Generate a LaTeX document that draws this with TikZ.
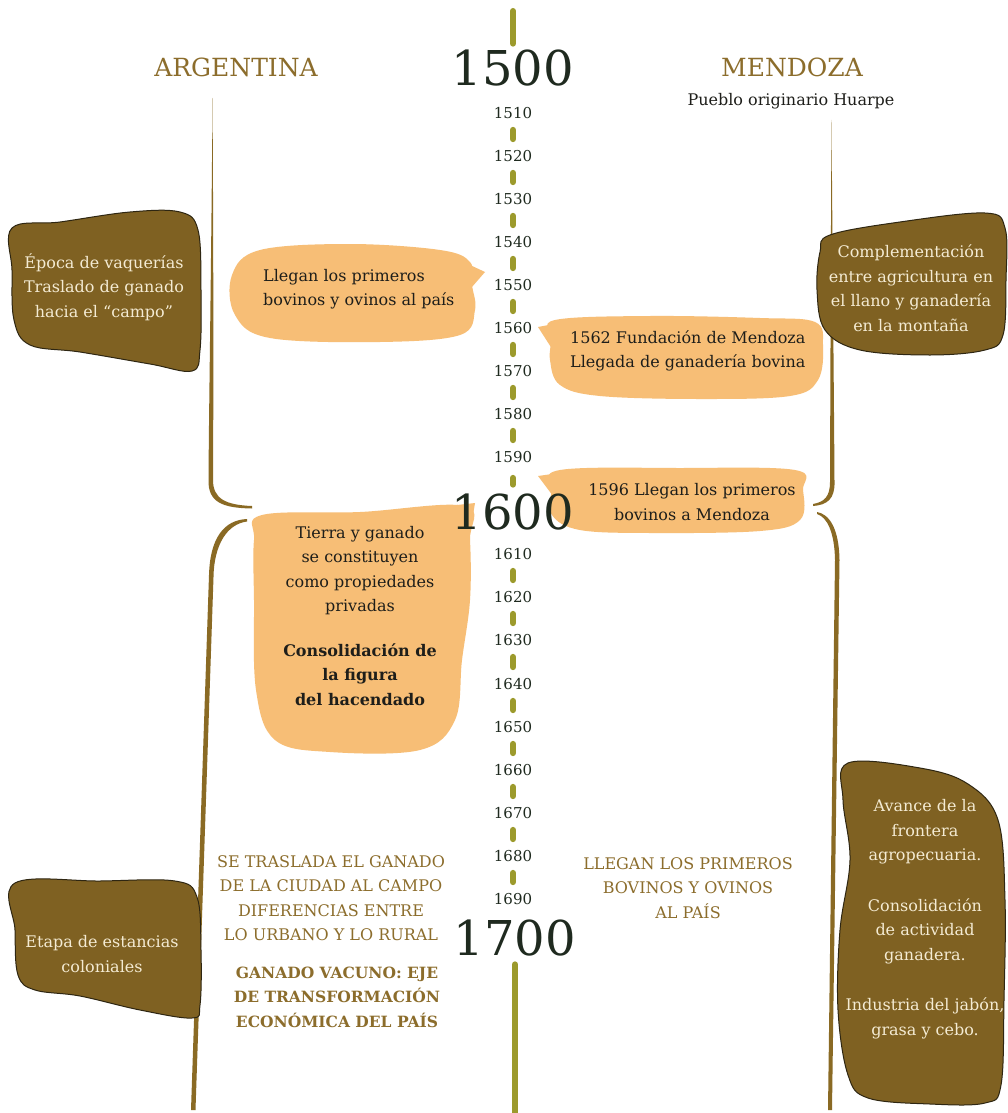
\documentclass[tikz,border=0pt]{standalone}
\usepackage{fontspec}
\setmainfont{DejaVu Serif}
\definecolor{olivedash}{HTML}{9C9A2C}
\definecolor{yeardark}{HTML}{1F2A1F}
\definecolor{goldtitle}{HTML}{8C6D2C}
\definecolor{boxbrown}{HTML}{7F6122}
\definecolor{boxline}{HTML}{2E2612}
\definecolor{bracketbrown}{HTML}{8A6A24}
\definecolor{bubbleorange}{HTML}{F7BE76}
\definecolor{creamtxt}{HTML}{F4EBD3}
\definecolor{bodydark}{HTML}{1E1E1A}
\begin{document}
\begin{tikzpicture}[x=1pt,y=-1pt,
  yearbig/.style={text=yeardark,font=\fontsize{48}{52}\selectfont,inner sep=0pt},
  yearsm/.style={text=yeardark,font=\fontsize{15}{17}\selectfont,inner sep=0pt},
  dashseg/.style={draw=olivedash,line width=6pt,line cap=round},
  body/.style={align=center,font=\fontsize{16}{24.5}\selectfont,inner sep=0pt,text=bodydark},
  boxtxt/.style={body,text=creamtxt},
  goldtxt/.style={body,text=goldtitle},
  title/.style={text=goldtitle,font=\fontsize{25}{28}\selectfont,inner sep=0pt},
  bubble/.style={fill=bubbleorange},
  brownbox/.style={fill=boxbrown,draw=boxline,line width=1pt},
  bracket/.style={fill=bracketbrown}]
\useasboundingbox (0,0) rectangle (1007,1113);
\fill[white] (0,0) rectangle (1007,1113);

% brackets
\fill[bracket] (212.5,98) .. controls (211.5,250) and (209,400) .. (208.5,480) .. controls (208,502) and (222,508) .. (252,508.5) -- (252,506) .. controls (226,505) and (213,499) .. (213,480) .. controls (213.5,400) and (213.5,250) .. (212.5,98) -- cycle;
\fill[bracket] (247,519) .. controls (224,520) and (210,538) .. (209,575) -- (191,1110) -- (195.5,1110) -- (213.5,577) .. controls (214,545) and (227,524) .. (247,521.5) -- cycle;
\fill[bracket] (831.5,120) .. controls (832.5,250) and (834,400) .. (834.5,482) .. controls (835,499) and (827,505) .. (813,506) -- (813,504) .. controls (824,502) and (830,497) .. (830,482) .. controls (830.3,400) and (830.8,250) .. (831.5,120) -- cycle;
\fill[bracket] (817,512) .. controls (829,514) and (839,528) .. (839.5,560) -- (832,1110) -- (828,1110) -- (835,560) .. controls (834.5,532) and (827,517) .. (817,514) -- cycle;

% brown boxes
\draw[brownbox] plot[smooth cycle,tension=0.6] coordinates {(12,228) (60,222) (130,212) (180,212) (198,230) (201,290) (200,350) (192,371) (150,364) (80,352) (30,345) (14,320) (12,270)};
\draw[brownbox] plot[smooth cycle,tension=0.6] coordinates {(15,883) (100,881) (175,881) (197,897) (201,950) (200,1005) (192,1018) (140,1010) (80,996) (35,990) (18,975) (15,930)};
\draw[brownbox] plot[smooth cycle,tension=0.6] coordinates {(830,235) (900,222) (985,213) (1005,228) (1006,280) (1003,335) (985,350) (930,355) (860,350) (825,330) (817,290) (820,252)};
\draw[brownbox] plot[smooth cycle,tension=0.6] coordinates {(848,763) (920,768) (968,784) (998,820) (1005,900) (1004,1000) (1001,1085) (985,1103) (930,1104) (868,1098) (848,1075) (838,1010) (840,930) (850,860) (843,800)};

% bubbles
\fill[bubble] plot[smooth cycle,tension=0.6] coordinates {(470,262) (440,250) (350,244) (260,250) (232,275) (235,315) (270,338) (380,342) (460,335) (475,310) (472,285)};
\fill[bubble] (455,258) -- (485,272) -- (465,295) -- cycle;
\fill[bubble] plot[smooth cycle,tension=0.6] coordinates {(555,320) (650,316) (760,318) (815,322) (823,345) (818,380) (790,396) (700,399) (600,396) (560,385) (550,360) (552,338)};
\fill[bubble] (575,320) -- (538,327) -- (556,355) -- cycle;
\fill[bubble] plot[smooth cycle,tension=0.6] coordinates {(560,470) (680,468) (795,470) (803,490) (800,520) (760,531) (650,533) (580,530) (552,515) (552,490)};
\fill[bubble] (580,470) -- (538,476) -- (556,500) -- cycle;
\fill[bubble] plot[smooth cycle,tension=0.6] coordinates {(262,515) (360,512) (465,506) (470,540) (470,600) (462,660) (455,720) (420,750) (330,752) (275,740) (256,690) (254,600) (254,540)};
\fill[bubble] (430,508) -- (475,503) -- (468,545) -- cycle;

% years
\node[yearbig] (y1500) at (513,68) {1500};
\node[yearbig] (y1600) at (513,512) {1600};
\node[yearbig] (y1700) at (515,938) {1700};
\foreach \yr/\yy in {1510/113,1520/156,1530/199,1540/242,1550/285,1560/328,1570/371,1580/414,1590/457,1610/554,1620/597,1630/640,1640/684,1650/727,1660/770,1670/813,1680/856,1690/899}
  \node[yearsm] (y\yr) at (513,\yy) {\yr};
\coordinate (ltop) at (513,11);
\coordinate (lbot) at (515,1113);
\draw[dashseg,shorten >=6pt] (ltop) -- (y1500.north);
\draw[dashseg,shorten <=8pt] (y1700.south) -- (lbot);
\foreach \a/\b in {1510/1520,1520/1530,1530/1540,1540/1550,1550/1560,1560/1570,1570/1580,1580/1590,1610/1620,1620/1630,1630/1640,1640/1650,1650/1660,1660/1670,1670/1680,1680/1690}
  \draw[dashseg,shorten <=11pt,shorten >=11pt] (y\a.south) -- (y\b.north);
\draw[dashseg,shorten <=15pt,shorten >=9pt] (y1590.south) -- (y1600.north);

% titles
\node[title] (arg) at (236,67) {ARGENTINA};
\node[title] (men) at (792,67) {MENDOZA};
\node[body] (huarpe) at (791,101) {Pueblo originario Huarpe};

% texts
\node[boxtxt] (t1) at (104,287) {Época de vaquerías\\Traslado de ganado\\hacia el “campo”};
\node[boxtxt] (t2) at (911,288) {Complementación\\entre agricultura en\\el llano y ganadería\\en la montaña};
\node[boxtxt] (t3) at (102,954) {Etapa de estancias\\coloniales};
\node[boxtxt] (t4) at (925,919) {Avance de la\\frontera\\agropecuaria.\\[26pt]Consolidación\\de actividad\\ganadera.\\[26pt]Industria del jabón,\\grasa y cebo.};
\node[body,align=left,anchor=west] (b1) at (263,289) {Llegan los primeros\\bovinos y ovinos al país};
\node[body,align=left,anchor=west] (b2) at (570,351) {1562 Fundación de Mendoza\\Llegada de ganadería bovina};
\node[body] (b3) at (692,502) {1596 Llegan los primeros\\bovinos a Mendoza};
\node[body] (b4) at (360,616) {Tierra y ganado\\se constituyen\\como propiedades\\privadas\\[20pt]\textbf{Consolidación de}\\\textbf{la figura}\\\textbf{del hacendado}};
\node[goldtxt] (g1) at (331,898) {SE TRASLADA EL GANADO\\DE LA CIUDAD AL CAMPO\\DIFERENCIAS ENTRE\\LO URBANO Y LO RURAL};
\node[goldtxt,font=\bfseries\fontsize{15.5}{24.5}\selectfont] (g2) at (337,997) {GANADO VACUNO: EJE\\DE TRANSFORMACIÓN\\ECONÓMICA DEL PAÍS};
\node[goldtxt] (g3) at (688,888) {LLEGAN LOS PRIMEROS\\BOVINOS Y OVINOS\\AL PAÍS};
\end{tikzpicture}
\end{document}
